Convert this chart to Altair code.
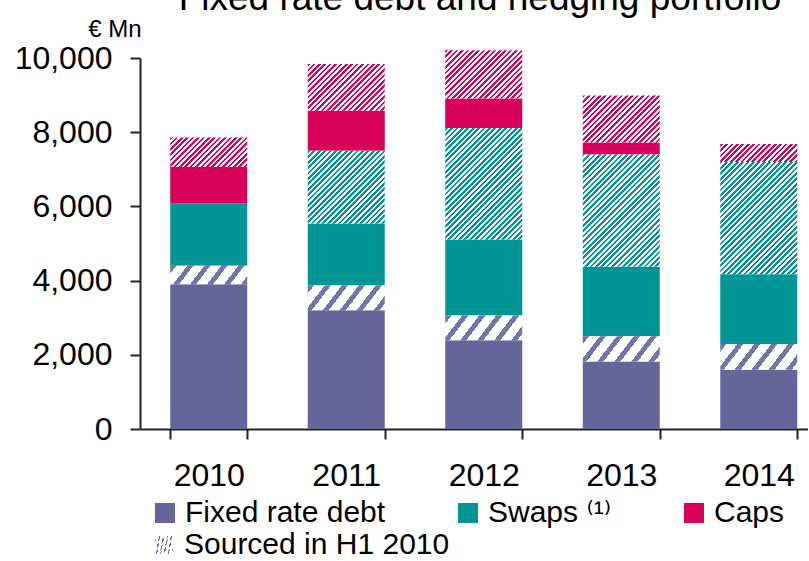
import math

import altair as alt
import pandas as pd

# Fixed rate debt and hedging portfolio, EUR millions, by year
years = ["2010", "2011", "2012", "2013", "2014"]
fixed_rate_debt = [3900, 3200, 2390, 1820, 1600]
fixed_rate_debt_h1 = [500, 670, 670, 680, 690]
swaps = [1680, 1670, 2050, 1870, 1880]
swaps_h1 = [0, 1960, 3000, 3030, 3030]
caps = [980, 1080, 800, 320, 0]
caps_h1 = [800, 1260, 1300, 1270, 480]

series_names = ["Fixed rate debt", "Swaps \u207d\u00b9\u207e", "Caps"]
hatch_name = "Sourced in H1 2010"
y_ticks = [0, 2000, 4000, 6000, 8000, 10000]

PURPLE = "#65659a"
TEAL = "#009696"
PINK = "#d9005b"
FONT = "Liberation Sans"
LEGEND_FONT = "Liberation Sans, DejaVu Sans"

Y_MAX = 10000
PLOT_H = 371
BAND_RANGE = 687.5
STEP = BAND_RANGE / len(years)
BAR_W = STEP * 0.56

segments = [
    (series_names[0], False, fixed_rate_debt),
    (series_names[0], True, fixed_rate_debt_h1),
    (series_names[1], False, swaps),
    (series_names[1], True, swaps_h1),
    (series_names[2], False, caps),
    (series_names[2], True, caps_h1),
]
stripe_style = {
    series_names[0]: dict(color="#7474a6", slope=1.3, period=17.0, frac=0.36),
    series_names[1]: dict(color=TEAL, slope=1.0, period=5.4, frac=0.5),
    series_names[2]: dict(color=PINK, slope=1.0, period=5.4, frac=0.5),
}

rows = []
for order, (name, hatched, values) in enumerate(segments):
    for year, v in zip(years, values):
        rows.append({"year": year, "series": name, "hatched": hatched,
                     "value": v, "order": order, "source": hatch_name})
df = pd.DataFrame(rows)


def stripes(color, h, w, slope, period, frac, bg="#ffffff"):
    """Diagonal stripe fill for a w x h rect, built from a hard-stop linear gradient."""
    span = slope * w + h
    k = span / (slope ** 2 * w ** 2 + h ** 2)
    t = period * slope / span
    stops = []
    i = 0
    while i * t < 1:
        a = i * t
        b = min((i + frac) * t, 1)
        c = min((i + 1) * t, 1)
        stops += [alt.GradientStop(offset=a, color=color),
                  alt.GradientStop(offset=b, color=color)]
        if b < 1:
            stops += [alt.GradientStop(offset=b, color=bg),
                      alt.GradientStop(offset=c, color=bg)]
        i += 1
    return alt.LinearGradient(gradient="linear", stops=stops,
                              x1=0, y1=0, x2=slope * w * k, y2=h * k)


def clip_band(c, d):
    """Polygon of the unit square [-1,1]^2 cut to the band c-d <= x+y <= c+d."""
    poly = [(-1, -1), (1, -1), (1, 1), (-1, 1)]

    def cut(pts, keep):
        out = []
        for i in range(len(pts)):
            p, q = pts[i], pts[(i + 1) % len(pts)]
            fp, fq = keep(p), keep(q)
            if fp >= 0:
                out.append(p)
            if fp * fq < 0:
                s = fp / (fp - fq)
                out.append((p[0] + s * (q[0] - p[0]), p[1] + s * (q[1] - p[1])))
        return out

    poly = cut(poly, lambda p: (p[0] + p[1]) - (c - d))
    poly = cut(poly, lambda p: (c + d) - (p[0] + p[1]))
    return "M" + "L".join(f"{x:.3f},{y:.3f}" for x, y in poly) + "Z"


# small striped legend icon, drawn as filled diagonal bands
HATCH_ICON = "".join(clip_band(c, 0.22) for c in [-1.3, -0.65, 0, 0.65, 1.3])

x_enc = alt.X(
    "year:N",
    scale=alt.Scale(range=[0, BAND_RANGE], paddingInner=0.44, paddingOuter=0.22),
    axis=alt.Axis(title=None, labelAngle=0, labelFontSize=32, labelPadding=21,
                  labelColor="black", tickSize=10, tickWidth=2, tickColor="#222",
                  domainColor="#222", domainWidth=2, tickBand="extent", grid=False),
)
y_enc = alt.Y(
    "y0:Q",
    scale=alt.Scale(domain=[0, Y_MAX], nice=False),
    axis=alt.Axis(title="€ Mn", values=y_ticks, format=",d", labelFontSize=32,
                  labelPadding=18, labelColor="black", tickSize=10, tickWidth=2,
                  tickColor="#222", domainColor="#222", domainWidth=2, grid=False,
                  titleAngle=0, titleAlign="right", titleBaseline="alphabetic",
                  titleX=1, titleY=-22, titleFontSize=24, titleFontWeight="normal",
                  titleColor="black"),
)

base = alt.Chart(df).transform_stack(
    stack="value", groupby=["year"], as_=["y0", "y1"],
    sort=[alt.SortField("order", order="ascending")],
)

solid = base.transform_filter("!datum.hatched").mark_bar().encode(
    x=x_enc,
    y=y_enc,
    y2="y1:Q",
    color=alt.Color(
        "series:N",
        scale=alt.Scale(domain=series_names, range=[PURPLE, TEAL, PINK]),
        legend=alt.Legend(title=None, orient="none", legendX=10, legendY=440,
                          direction="horizontal", symbolType="square", symbolSize=400,
                          symbolStrokeWidth=0, labelFontSize=30, labelFont=LEGEND_FONT,
                          labelColor="black", labelOffset=5, columnPadding=67,
                          labelLimit=500, padding=0),
    ),
)

hatch_legend = alt.Legend(title=None, orient="none", legendX=9, legendY=472,
                          symbolType=HATCH_ICON, symbolSize=324,
                          symbolFillColor="#8f8f8f", symbolStrokeColor="transparent",
                          symbolStrokeWidth=0, symbolOpacity=1, labelFontSize=30,
                          labelFont=FONT, labelColor="black", labelOffset=5,
                          labelLimit=500, padding=0)

hatch_layers = []
for order, (name, hatched, values) in enumerate(segments):
    if not hatched:
        continue
    st = stripe_style[name]
    for year, v in zip(years, values):
        if v <= 0:
            continue
        h = v / Y_MAX * PLOT_H
        fill = stripes(st["color"], h, BAR_W, st["slope"], st["period"], st["frac"])
        layer = base.transform_filter(
            f"datum.hatched && datum.year == '{year}' && datum.order == {order}"
        ).mark_bar(fill=fill).encode(
            x=x_enc,
            y=y_enc,
            y2="y1:Q",
            opacity=alt.Opacity("source:O", scale=alt.Scale(range=[1, 1]),
                                legend=hatch_legend),
        )
        hatch_layers.append(layer)

chart = alt.layer(solid, *hatch_layers).properties(
    width=668,
    height=PLOT_H,
    title=alt.TitleParams("Fixed rate debt and hedging portfolio", fontSize=37,
                          font=FONT, fontWeight="normal", color="black",
                          anchor="middle", frame="group", offset=-1, dx=6),
    padding={"left": 140, "top": 58, "right": 0, "bottom": 128},
    autosize=alt.AutoSizeParams(type="none"),
).configure(font=FONT).configure_view(stroke=None)

chart.save("out.html", embed_options={"renderer": "svg", "actions": False})
